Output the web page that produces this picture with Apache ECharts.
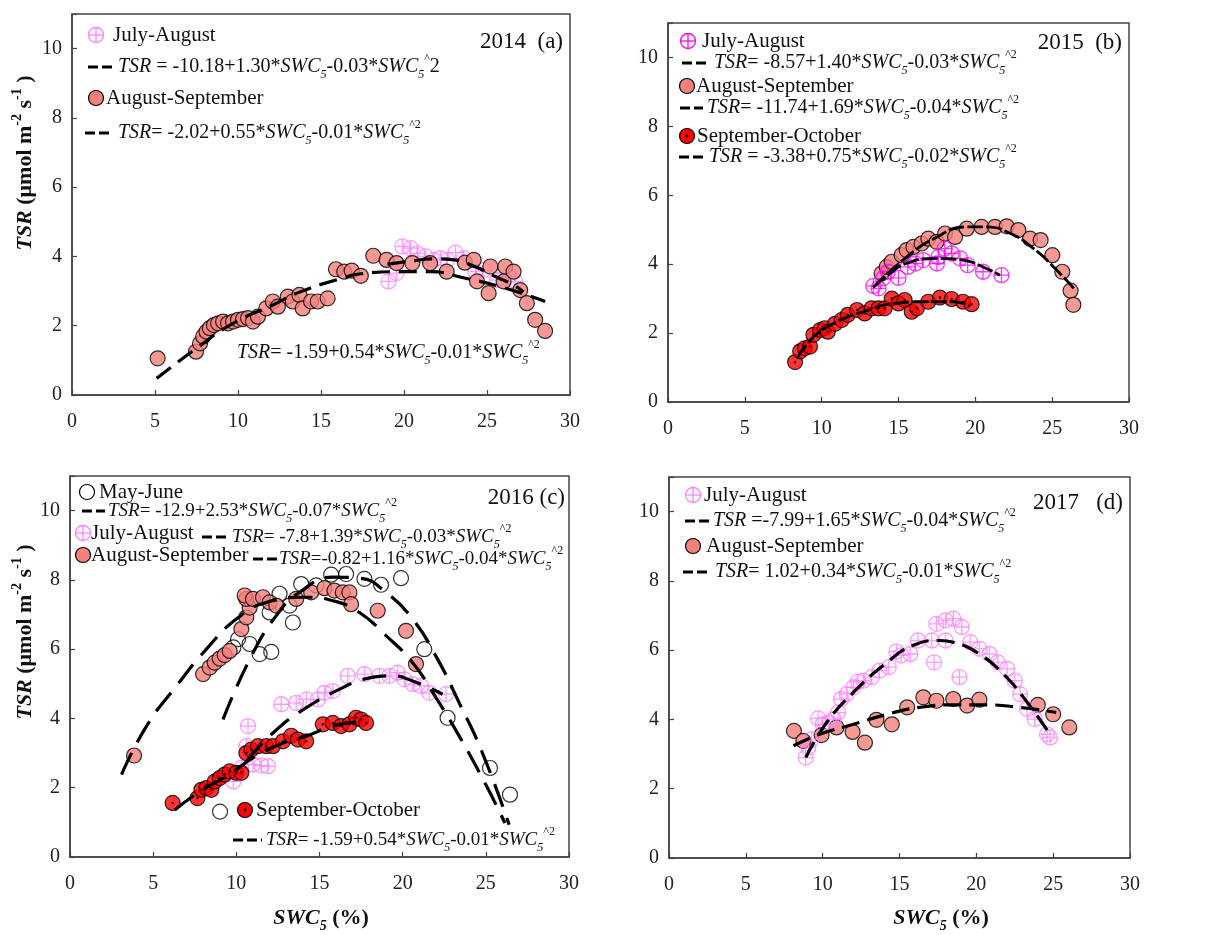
<!DOCTYPE html>
<html><head><meta charset="utf-8">
<script src="https://cdn.jsdelivr.net/npm/echarts@6/dist/echarts.min.js"></script>
<style>html,body{margin:0;padding:0;background:#fff}#c{width:1225px;height:935px}</style>
</head><body><div id="c"></div>
<script>
// ---------- DATA ----------
const xTickInterval = 5, yTickInterval = 2;
// Panel (a) 2014
const a_julAug = [[19.9,4.29],[20.4,4.24],[20.8,4.09],[21.3,4.0],[19.06,3.28],[19.55,3.52],[21.8,3.9],[22.2,3.95],[22.6,3.9],[23.1,4.11],[23.6,3.95],[24.3,3.56],[24.8,3.61],[25.6,3.32],[26.3,3.42],[26.7,3.28]];
const a_augSep = [[5.16,1.06],[7.47,1.25],[7.71,1.49],[7.9,1.69],[8.1,1.83],[8.3,1.93],[8.55,2.02],[8.8,2.07],[9.1,2.12],[9.4,2.07],[9.7,2.12],[10.0,2.17],[10.3,2.19],[10.6,2.22],[10.9,2.12],[11.2,2.26],[11.7,2.5],[12.1,2.7],[12.4,2.55],[13.0,2.84],[13.3,2.7],[13.7,2.89],[13.9,2.5],[14.4,2.7],[14.8,2.7],[15.4,2.79],[15.9,3.63],[16.4,3.56],[16.85,3.59],[17.4,3.44],[18.15,4.02],[18.95,3.9],[19.55,3.81],[20.5,3.81],[21.57,3.81],[22.57,3.56],[23.67,3.82],[24.2,3.9],[24.4,3.28],[25.1,2.94],[25.2,3.71],[26.0,3.28],[26.1,3.71],[26.6,3.56],[27.0,3.03],[27.4,2.65],[27.9,2.17],[28.5,1.85]];
const a_fitAugSep = [[5.1,0.48],[7.5,1.35],[9.7,2.07],[12.1,2.6],[13.7,2.97],[15.9,3.32],[17.4,3.5],[19.9,3.56],[21.5,3.56],[23.7,3.37],[26.0,3.1],[28.5,2.7]];
const a_fitJulAug = [[19.0,3.78],[20.4,3.86],[21.6,3.93],[23.0,3.9],[24.3,3.7],[25.5,3.42],[26.5,3.2],[27.2,2.98]];
// Panel (b) 2015
const b_julAug = [[13.36,3.37],[13.7,3.3],[14.0,3.59],[14.3,3.78],[15.0,3.6],[15.6,3.92],[16.1,4.02],[16.6,4.12],[17.5,4.02],[17.6,4.21],[18.0,4.45],[18.46,4.31],[19.0,4.17],[19.5,3.97],[20.5,3.78],[21.7,3.68]];
const b_augSep = [[13.9,3.73],[14.23,3.92],[14.56,4.07],[15.2,4.26],[15.53,4.41],[15.97,4.5],[16.5,4.6],[16.94,4.74],[17.48,4.65],[18.03,4.89],[18.68,4.79],[19.44,5.03],[20.41,5.08],[21.28,5.08],[22.04,5.1],[22.8,4.99],[23.56,4.74],[24.25,4.7],[25.01,4.26],[25.66,3.78],[26.2,3.23],[26.38,2.82]];
const b_sepOct = [[8.27,1.16],[8.6,1.47],[8.9,1.56],[9.24,1.61],[9.46,1.95],[9.9,2.09],[10.2,2.14],[10.4,2.04],[10.87,2.27],[11.3,2.38],[11.7,2.53],[12.3,2.67],[12.8,2.57],[13.25,2.72],[13.7,2.72],[14.1,2.72],[14.56,3.0],[15.0,2.86],[15.4,2.96],[15.86,2.62],[16.2,2.72],[16.94,2.91],[17.7,3.03],[18.46,2.99],[19.2,2.91],[19.76,2.84]];
const b_fitJulAug = [[13.36,3.33],[14.2,3.64],[15.5,4.02],[17.5,4.17],[19.2,4.12],[20.5,3.92],[21.6,3.68]];
const b_fitAugSep = [[13.36,3.33],[15.5,4.2],[17.3,4.74],[19.4,5.08],[20.7,5.08],[22.3,4.89],[23.8,4.45],[25.1,3.92],[26.4,3.3]];
const b_fitSepOct = [[8.4,1.27],[9.5,1.9],[11.0,2.33],[12.7,2.62],[14.7,2.86],[16.8,2.91],[18.6,2.91],[19.65,2.77]];
// Panel (c) 2016
const c_mayJun = [[9.02,1.31],[9.82,6.05],[10.1,6.29],[10.8,6.15],[11.4,5.86],[12.1,5.92],[12.0,7.06],[12.6,7.6],[13.2,7.26],[13.4,6.77],[13.9,7.88],[14.8,7.84],[15.7,8.15],[16.6,8.17],[17.7,8.03],[18.7,7.86],[19.9,8.05],[21.3,6.0],[22.7,4.02],[25.25,2.57],[26.45,1.8]];
const c_julAug = [[9.82,2.18],[10.3,2.57],[10.6,3.2],[10.7,3.78],[11.0,2.67],[11.5,2.64],[11.9,2.62],[12.7,4.41],[13.6,4.45],[14.2,4.55],[14.9,4.55],[15.3,4.74],[15.8,4.79],[16.7,5.23],[17.7,5.28],[18.6,5.23],[19.2,5.23],[19.7,5.32],[20.1,5.13],[20.6,4.99],[21.1,4.94],[21.6,4.74],[22.6,4.7]];
const c_augSep = [[3.85,2.93],[8.0,5.28],[8.4,5.47],[8.7,5.61],[9.0,5.73],[9.3,5.83],[9.6,5.95],[10.3,6.58],[10.6,6.92],[10.8,7.2],[10.6,7.45],[10.5,7.55],[11.0,7.45],[11.6,7.5],[12.0,7.35],[12.4,7.26],[13.6,7.45],[14.5,7.64],[15.3,7.76],[15.9,7.69],[16.4,7.64],[16.8,7.64],[16.9,7.3],[18.5,7.11],[20.2,6.53],[20.8,5.57]];
const c_sepOct = [[6.17,1.56],[7.66,1.7],[7.9,1.94],[8.2,1.99],[8.5,1.94],[8.7,2.18],[9.0,2.28],[9.3,2.38],[9.6,2.47],[10.0,2.43],[10.3,2.43],[10.6,3.0],[10.9,3.1],[11.3,3.2],[11.8,3.2],[12.2,3.2],[12.8,3.34],[13.3,3.5],[13.7,3.39],[14.2,3.34],[15.2,3.83],[15.8,3.87],[16.3,3.78],[16.8,3.83],[17.2,4.02],[17.5,3.97],[17.8,3.87]];
const c_fitMayJun = [[9.2,3.97],[10.8,5.7],[12.4,6.97],[13.8,7.64],[15.8,8.08],[17.4,8.05],[19.0,7.64],[20.6,6.87],[22.0,5.8],[23.4,4.45],[24.8,3.0],[26.4,0.93]];
const c_fitAugSep = [[3.1,2.38],[4.6,3.78],[6.4,4.94],[8.2,6.0],[10.0,6.87],[11.8,7.35],[14.2,7.5],[15.8,7.4],[17.4,7.06],[19.0,6.39],[20.6,5.61],[22.0,4.6],[23.4,3.49],[25.05,2.04],[26.15,0.98]];
const c_fitJulAug = [[10.6,2.76],[12.2,3.58],[14.2,4.31],[16.4,4.89],[17.8,5.15],[19.4,5.23],[20.6,5.08],[22.4,4.7]];
const c_fitSepOct = [[6.3,1.36],[7.8,1.89],[9.4,2.33],[11.0,2.86],[12.6,3.25],[14.2,3.49],[15.8,3.78],[17.4,3.92],[17.8,3.95]];
// Panel (d) 2017
const d_julAug = [[8.9,2.9],[9.07,3.19],[9.28,3.43],[9.7,4.03],[10.0,3.86],[10.4,3.91],[10.7,4.01],[11.0,4.2],[11.2,4.59],[11.56,4.73],[12.0,4.93],[12.3,5.09],[12.65,5.12],[13.2,5.22],[13.7,5.41],[14.3,5.51],[14.8,5.96],[15.1,5.85],[15.7,5.89],[16.2,6.28],[17.1,6.28],[17.25,5.65],[17.4,6.76],[18.0,6.86],[18.0,6.28],[18.5,6.91],[18.9,5.22],[19.05,6.67],[19.6,6.23],[20.2,6.04],[20.85,5.89],[21.4,5.65],[22.0,5.46],[22.5,5.12],[22.85,4.73],[23.3,4.3],[23.8,4.01],[24.6,3.57],[24.8,3.48]];
const d_augSep = [[8.13,3.67],[8.74,3.38],[9.93,3.55],[10.9,3.77],[11.95,3.64],[12.75,3.33],[13.5,3.99],[14.5,3.86],[15.5,4.35],[16.55,4.64],[17.4,4.54],[18.5,4.59],[19.4,4.4],[20.2,4.57],[24.0,4.42],[25.0,4.15],[26.05,3.77]];
const d_fitJulAug = [[8.9,2.9],[10.26,3.91],[12.0,4.78],[14.2,5.65],[15.9,6.14],[17.6,6.28],[18.5,6.23],[20.2,5.89],[21.76,5.31],[23.06,4.64],[24.8,3.57]];
const d_fitAugSep = [[8.1,3.24],[9.8,3.57],[12.0,3.86],[14.2,4.15],[16.3,4.35],[18.5,4.42],[20.7,4.42],[22.8,4.35],[25.2,4.2]];

// ---------- STYLE ----------
const FONT = "'Liberation Serif','Times New Roman',serif";
const SALMON = '#f4807b', PINK = '#ff80ff', MAGENTA = '#ff00ff', RED = '#ff0000';
const PLUS_PATH = 'path://M0,10A10,10,0,1,1,20,10A10,10,0,1,1,0,10ZM10,0L10,20M0,10L20,10';
const MS = 15;
const grids = [
  {left:72, top:14, width:498, height:381},
  {left:668, top:23, width:461, height:379},
  {left:70, top:476, width:499, height:381},
  {left:669, top:477, width:461, height:381}
];

function scatterPlus(g, data, color, size) {
  return {type:'scatter', xAxisIndex:g, yAxisIndex:g, data, symbol:PLUS_PATH, symbolSize:size||MS, silent:true,
    itemStyle:{color:'rgba(255,255,255,0)', borderColor:color, borderWidth:1.3}, z:3};
}
function scatterFill(g, data, color, z) {
  return {type:'scatter', xAxisIndex:g, yAxisIndex:g, data, symbol:'circle', symbolSize:MS, silent:true,
    itemStyle:{color:color, borderColor:'#000', borderWidth:1.2}, z:z||3};
}
function dots(g, data) {
  return {type:'scatter', xAxisIndex:g, yAxisIndex:g, data, symbol:'circle', symbolSize:2.6, silent:true,
    itemStyle:{color:'#000'}, z:4};
}
function fit(g, data, dash, w) {
  return {type:'line', xAxisIndex:g, yAxisIndex:g, data, smooth:0.5, symbol:'none', silent:true,
    lineStyle:{color:'#000', width:w||3.2, type:dash}, z:5};
}

function rich(fs) {
  const sub = Math.round(fs*0.62);
  return {
    n:{fontFamily:FONT, fontSize:fs, lineHeight:28, verticalAlign:'middle', fill:'#111'},
    i:{fontFamily:FONT, fontSize:fs, fontStyle:'italic', lineHeight:28, verticalAlign:'middle', fill:'#111'},
    s:{fontFamily:FONT, fontSize:sub, fontStyle:'italic', lineHeight:11, verticalAlign:'bottom', fill:'#111'},
    p:{fontFamily:FONT, fontSize:sub, lineHeight:12, verticalAlign:'top', fill:'#111'}
  };
}
function txt(x, y, text, fs, align) {
  return {type:'text', x, y, z:100, silent:true,
    style:{text, rich:rich(fs||20), fontFamily:FONT, fontSize:fs||20, fill:'#111', align:align||'left', verticalAlign:'middle'}};
}
function dash(x1, x2, y) {
  return {type:'line', z:100, silent:true, shape:{x1, y1:y, x2, y2:y}, style:{stroke:'#000', lineWidth:3.2, lineDash:[10,4]}};
}
function mPlus(cx, cy, r, color) {
  return [
    {type:'circle', z:100, silent:true, shape:{cx, cy, r}, style:{fill:'none', stroke:color, lineWidth:1.3}},
    {type:'line', z:100, silent:true, shape:{x1:cx-r, y1:cy, x2:cx+r, y2:cy}, style:{stroke:color, lineWidth:1.3}},
    {type:'line', z:100, silent:true, shape:{x1:cx, y1:cy-r, x2:cx, y2:cy+r}, style:{stroke:color, lineWidth:1.3}}
  ];
}
function mCircle(cx, cy, r, fill) {
  return {type:'circle', z:100, silent:true, shape:{cx, cy, r}, style:{fill, stroke:'#000', lineWidth:1.2}};
}
function mDot(cx, cy, r) {
  return [mCircle(cx, cy, r, RED), {type:'circle', z:101, silent:true, shape:{cx, cy, r:1.4}, style:{fill:'#000'}}];
}
const EQ = (head, a, b) => '{i|TSR}{n|' + head + a + '*}{i|SWC}{s|5}{n|' + b + '*}{i|SWC}{s|5}{p|^2}';

const xAxes = grids.map((g, i) => ({
  gridIndex:i, type:'value', min:0, max:30, interval:xTickInterval,
  axisLine:{lineStyle:{color:'#444', width:1.5}},
  axisTick:{inside:true, length:5, lineStyle:{color:'#444', width:1.2}},
  axisLabel:{fontFamily:FONT, fontSize:20, color:'#222', margin:17},
  splitLine:{show:false}
}));
const yAxes = grids.map((g, i) => ({
  gridIndex:i, type:'value', min:0, max:11, interval:yTickInterval,
  axisLine:{lineStyle:{color:'#444', width:1.5}},
  axisTick:{inside:true, length:5, lineStyle:{color:'#444', width:1.2}},
  axisLabel:{fontFamily:FONT, fontSize:20, color:'#222', margin:10, formatter:v => v > 10 ? '' : String(v)},
  splitLine:{show:false}
}));

const series = [
  // (a)
  scatterPlus(0, a_julAug, PINK),
  scatterFill(0, a_augSep, SALMON, 3),
  fit(0, a_fitAugSep, [18,9]),
  fit(0, a_fitJulAug, [18,9]),
  // (b)
  scatterFill(1, b_augSep, SALMON, 2),
  scatterPlus(1, b_julAug, MAGENTA, 15),
  scatterFill(1, b_sepOct, RED, 3),
  dots(1, b_sepOct),
  fit(1, b_fitAugSep, [16,3], 2.8),
  fit(1, b_fitJulAug, [16,3], 2.8),
  fit(1, b_fitSepOct, [16,3], 2.8),
  // (c)
  scatterFill(2, c_mayJun, 'rgba(255,255,255,0)', 2),
  scatterFill(2, c_augSep, SALMON, 2),
  scatterPlus(2, c_julAug, PINK),
  scatterFill(2, c_sepOct, RED, 3),
  dots(2, c_sepOct),
  fit(2, c_fitMayJun, [24,12]),
  fit(2, c_fitAugSep, [24,12]),
  fit(2, c_fitJulAug, [24,12]),
  fit(2, c_fitSepOct, [24,12]),
  // (d)
  scatterFill(3, d_augSep, SALMON, 2),
  scatterPlus(3, d_julAug, PINK),
  fit(3, d_fitJulAug, [18,8]),
  fit(3, d_fitAugSep, [18,8])
];

const titleRich = {
  b:{fontFamily:FONT, fontSize:22, fontWeight:'bold', lineHeight:30, verticalAlign:'middle', fill:'#111'},
  bi:{fontFamily:FONT, fontSize:22, fontWeight:'bold', fontStyle:'italic', lineHeight:30, verticalAlign:'middle', fill:'#111'},
  bp:{fontFamily:FONT, fontSize:14, fontWeight:'bold', lineHeight:13, verticalAlign:'top', fill:'#111'},
  bs:{fontFamily:FONT, fontSize:14, fontWeight:'bold', fontStyle:'italic', lineHeight:11, verticalAlign:'bottom', fill:'#111'}
};
function ytitle(x, y) {
  return {type:'text', x, y, rotation:Math.PI/2, z:100, silent:true,
    style:{text:'{bi|TSR}{b| (μmol m}{bp|-2}{b| s}{bp|-1}{b| )}', rich:titleRich, align:'center', verticalAlign:'middle', fontFamily:FONT, fontSize:22}};
}
function xtitle(x, y) {
  return {type:'text', x, y, z:100, silent:true,
    style:{text:'{bi|SWC}{bs|5}{b| (%)}', rich:titleRich, align:'center', verticalAlign:'middle', fontFamily:FONT, fontSize:22}};
}

const graphic = [
  // (a)
  txt(563, 42, '{n|2014  (a)}', 23, 'right'),
  ...mPlus(96, 35, 7.5, PINK), txt(113, 35, '{n|July-August}', 21),
  dash(88, 115, 67), txt(118, 67, '{i|TSR}{n| = -10.18+1.30*}{i|SWC}{s|5}{n|-0.03*}{i|SWC}{s|5}{p|^}{n|2}', 20),
  mCircle(96, 98, 7.5, SALMON), txt(106, 98, '{n|August-September}', 21),
  dash(85, 110, 133), txt(118, 133, EQ('= ', '-2.02+0.55', '-0.01'), 20),
  txt(237, 353, EQ('= ', '-1.59+0.54', '-0.01'), 20),
  // (b)
  txt(1122, 43, '{n|2015  (b)}', 23, 'right'),
  ...mPlus(688, 41, 7.5, MAGENTA), txt(702, 41, '{n|July-August}', 21),
  dash(682, 707, 63), txt(714, 63, EQ('= ', '-8.57+1.40', '-0.03'), 20),
  mCircle(687, 86, 7.5, SALMON), txt(696, 86, '{n|August-September}', 21),
  dash(680, 703, 108), txt(707, 108, EQ('= ', '-11.74+1.69', '-0.04'), 20),
  ...mDot(687, 136, 7.5), txt(697, 136, '{n|September-October}', 21),
  dash(679, 703, 157), txt(709, 157, '{i|TSR}{n| = -3.38+0.75*}{i|SWC}{s|5}{n|-0.02*}{i|SWC}{s|5}{p|^2}', 20),
  // (c)
  txt(565, 498, '{n|2016 (c)}', 23, 'right'),
  mCircle(87, 492, 7.5, '#fff'), txt(99, 492, '{n|May-June}', 21),
  dash(82, 105, 511), txt(108, 511, EQ('= ', '-12.9+2.53', '-0.07'), 19),
  ...mPlus(83, 533, 7.5, PINK), txt(91, 533, '{n|July-August}', 21),
  dash(202, 228, 537), txt(232, 537, EQ('= ', '-7.8+1.39', '-0.03'), 19),
  mCircle(83, 555, 7.5, SALMON), txt(91, 555, '{n|August-September}', 21),
  dash(253, 278, 559), txt(279, 559, EQ('=', '-0.82+1.16', '-0.04'), 19),
  ...mDot(245, 810, 7.5), txt(256, 810, '{n|September-October}', 21),
  dash(233, 262, 840), txt(266, 840, EQ('= ', '-1.59+0.54', '-0.01'), 19),
  // (d)
  txt(1123, 503, '{n|2017   (d)}', 23, 'right'),
  ...mPlus(693, 495, 7.5, PINK), txt(704, 495, '{n|July-August}', 21),
  dash(685, 710, 521), txt(713, 521, '{i|TSR}{n| =-7.99+1.65*}{i|SWC}{s|5}{n|-0.04*}{i|SWC}{s|5}{p|^2}', 20),
  mCircle(693, 546, 7.5, SALMON), txt(706, 546, '{n|August-September}', 21),
  dash(683, 708, 572), txt(715, 572, EQ('= ', '1.02+0.34', '-0.01'), 20),
  // axis titles
  ytitle(25, 163), ytitle(25, 632),
  xtitle(321, 918), xtitle(941, 918)
];

const chart = echarts.init(document.getElementById('c'), null, {renderer:'canvas'});
chart.setOption({
  animation:false,
  backgroundColor:'#fff',
  grid:grids.map(g => Object.assign({show:true, borderColor:'#444', borderWidth:1.5, backgroundColor:'transparent', containLabel:false}, g)),
  xAxis:xAxes,
  yAxis:yAxes,
  series,
  graphic
});
</script></body></html>
